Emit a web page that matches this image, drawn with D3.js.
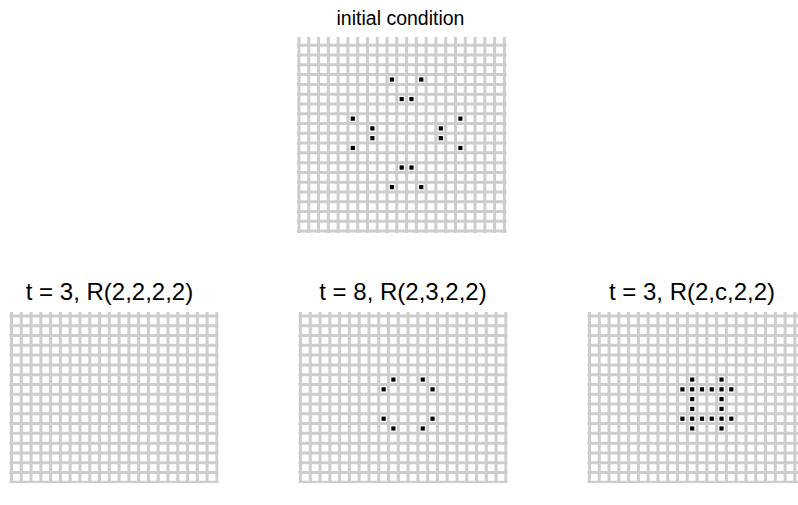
<!DOCTYPE html>
<html>
<head>
<meta charset="utf-8">
<script src="https://cdn.jsdelivr.net/npm/d3@7"></script>
<style>
  html, body { margin: 0; padding: 0; background: #fff; }
  svg { display: block; }
  text { font-family: "Liberation Sans", Arial, sans-serif; fill: #000; }
</style>
</head>
<body>
<svg id="chart" width="798" height="505"></svg>
<script>
// ---- data ----
const titles = ["initial condition", "t = 3, R(2,2,2,2)", "t = 8, R(2,3,2,2)", "t = 3, R(2,c,2,2)"];
// live cells as [column, row]
const cellsInitial = [
  [9,4],[12,4],
  [10,6],[11,6],
  [5,8],[16,8],
  [7,9],[14,9],
  [7,10],[14,10],
  [5,11],[16,11],
  [10,13],[11,13],
  [9,15],[12,15]
];
const cellsR2222 = [];
const cellsR2322 = [
  [9,6],[12,6],
  [8,7],[13,7],
  [8,10],[13,10],
  [9,11],[12,11]
];
const cellsR2c22 = [
  [10,6],[13,6],
  [9,7],[10,7],[11,7],[12,7],[13,7],[14,7],
  [10,8],[13,8],
  [10,9],[13,9],
  [9,10],[10,10],[11,10],[12,10],[13,10],[14,10],
  [10,11],[13,11]
];
const gridCols = [21, 21, 21, 21];
const gridRows = [20, 17, 17, 17];

// ---- layout ----
const cell = 9.78;
const panels = [
  { title: titles[0], cells: cellsInitial, cols: gridCols[0], rows: gridRows[0], gx: 299,   gy: 35.5, clip: [297, 37, 209.5, 196], tx: 400.5, ty: 25,  fs: 19.5 },
  { title: titles[1], cells: cellsR2222,   cols: gridCols[1], rows: gridRows[1], gx: 11.5,  gy: 316,  clip: [9.5, 312, 209, 171],   tx: 109.5, ty: 300, fs: 24 },
  { title: titles[2], cells: cellsR2322,   cols: gridCols[2], rows: gridRows[2], gx: 300.5, gy: 316,  clip: [298.5, 312, 209, 171], tx: 403,   ty: 300, fs: 24 },
  { title: titles[3], cells: cellsR2c22,   cols: gridCols[3], rows: gridRows[3], gx: 589.5, gy: 316,  clip: [587.5, 312, 210.5, 171], tx: 692, ty: 300, fs: 24 }
];

const svg = d3.select("#chart");
const defs = svg.append("defs");

panels.forEach((p, i) => {
  const x = d3.scaleLinear().domain([0, p.cols]).range([p.gx, p.gx + p.cols * cell]);
  const y = d3.scaleLinear().domain([0, p.rows]).range([p.gy, p.gy + p.rows * cell]);

  defs.append("clipPath").attr("id", "clip" + i)
    .append("rect")
    .attr("x", p.clip[0]).attr("y", p.clip[1])
    .attr("width", p.clip[2]).attr("height", p.clip[3]);

  const g = svg.append("g").attr("clip-path", `url(#clip${i})`);
  const ext = 6;

  g.selectAll("line.v").data(d3.range(p.cols + 1)).join("line")
    .attr("class", "v")
    .attr("x1", d => x(d)).attr("x2", d => x(d))
    .attr("y1", y(0) - ext).attr("y2", y(p.rows) + ext)
    .attr("stroke", "#cdcdcd").attr("stroke-width", 3);

  g.selectAll("line.h").data(d3.range(p.rows + 1)).join("line")
    .attr("class", "h")
    .attr("y1", d => y(d)).attr("y2", d => y(d))
    .attr("x1", x(0) - ext).attr("x2", x(p.cols) + ext)
    .attr("stroke", "#cdcdcd").attr("stroke-width", 3);

  const s = 4.2;
  g.selectAll("rect.cell").data(p.cells).join("rect")
    .attr("class", "cell")
    .attr("x", d => x(d[0] + 0.5) - s / 2)
    .attr("y", d => y(d[1] + 0.5) - s / 2)
    .attr("width", s).attr("height", s)
    .attr("fill", "#000");

  svg.append("text")
    .attr("x", p.tx).attr("y", p.ty)
    .attr("text-anchor", "middle")
    .attr("font-size", p.fs)
    .text(p.title);
});
</script>
</body>
</html>
